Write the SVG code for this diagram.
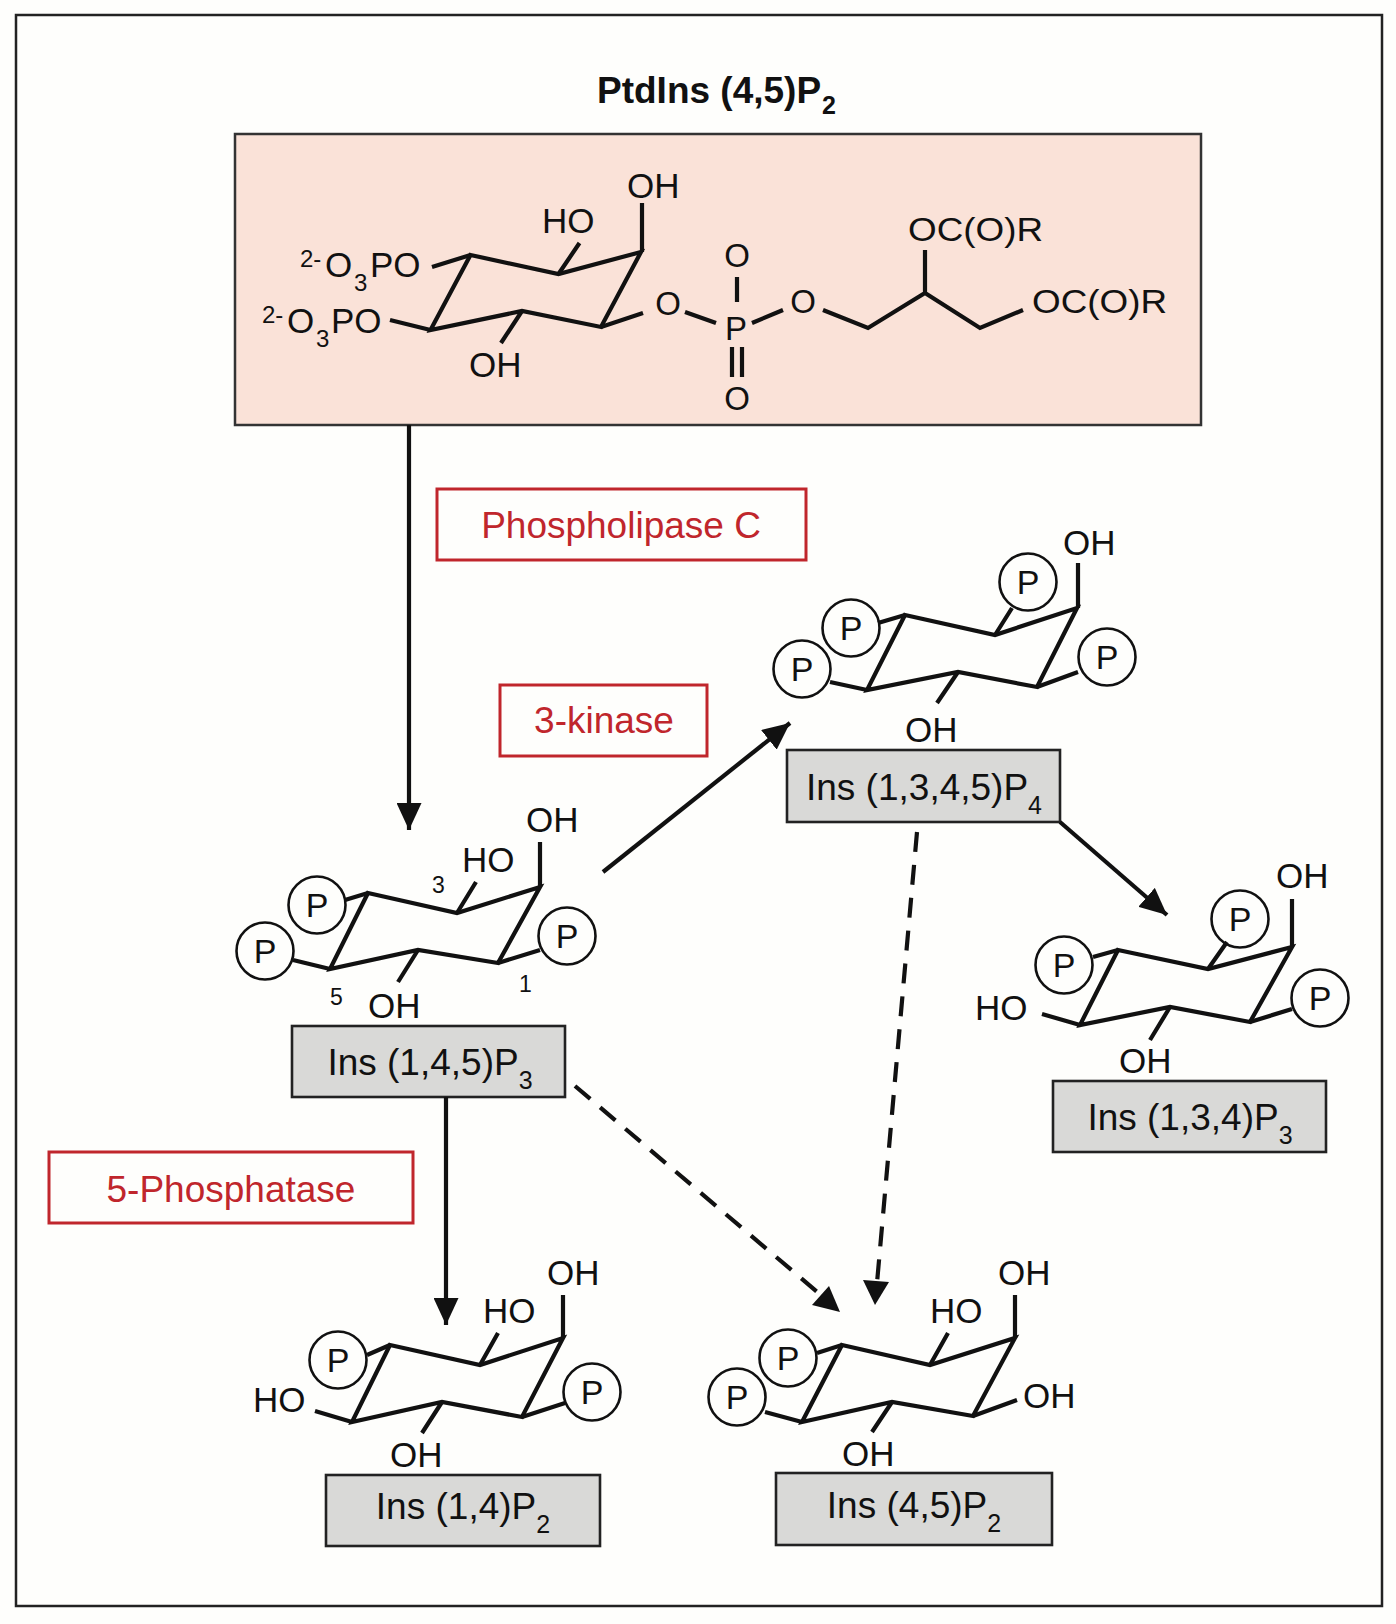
<svg xmlns="http://www.w3.org/2000/svg" width="1396" height="1624" viewBox="0 0 1396 1624">
<defs>
<style>
.bd{stroke:#111;stroke-width:4.2;fill:none;stroke-linejoin:miter}
.cn{stroke:#111;stroke-width:4.2;fill:none}
.dash{stroke-dasharray:20 13}
.t{font-family:"Liberation Sans",Arial,Helvetica,sans-serif;fill:#111}
.c{font-size:35px}
.s{font-size:24px}
.ls{font-size:25px}
.n{font-size:23px}
.pc{fill:none;stroke:#111;stroke-width:2.6}
.pt{font-size:34px;text-anchor:middle}
.lb{font-size:37px;text-anchor:middle}
.red{font-family:"Liberation Sans",Arial,Helvetica,sans-serif;fill:#c0262c;font-size:37px;text-anchor:middle}
.rbox{fill:none;stroke:#c0262c;stroke-width:3}
.gbox{fill:#d9d9d7;stroke:#222;stroke-width:2.6}
</style>
<marker id="ah" markerUnits="userSpaceOnUse" markerWidth="27" markerHeight="25" refX="27" refY="12.5" orient="auto">
<path d="M0,0 L27,12.5 L0,25 Z" fill="#111"/>
</marker>
</defs>
<rect x="0" y="0" width="1396" height="1624" fill="#fefefc"/>
<rect x="16" y="15" width="1366" height="1591" fill="none" stroke="#222" stroke-width="2.5"/>

<g id="title">
<text class="t" x="597" y="103" font-size="37" font-weight="bold">PtdIns (4,5)P</text>
<text class="t" x="822" y="114" font-size="25" font-weight="bold">2</text>
</g>

<g id="ptdins">
<rect x="235" y="134" width="966" height="291" fill="#fae2d8" stroke="#333" stroke-width="2.5"/>
<path class="bd" d="M470.5,255 L558.5,274 L641,252 L601,327 L522,311 L430.5,330 Z"/>
<path class="bd" d="M642,252 L642,203 M558.5,274 L579.5,243 M522,311 L501,343 M432,267 L470.5,255 M390,320 L430.5,330 M601,327 L643,313 M685,312 L716,323 M752,323 L783,310 M823,310 L868,328 L925,293 L980,328 L1023,310 M925,293 L925,250 M737,277 L737,302 M732,347 L732,377 M742,347 L742,377"/>
<text class="t c" x="627" y="198">OH</text>
<text class="t c" x="542" y="233">HO</text>
<text class="t c" x="469" y="377">OH</text>
<text class="t s" x="300" y="267">2-</text>
<text class="t c" x="325" y="277">O</text>
<text class="t s" x="354" y="291">3</text>
<text class="t c" x="370" y="277">PO</text>
<text class="t s" x="262" y="323">2-</text>
<text class="t c" x="287" y="333">O</text>
<text class="t s" x="316" y="347">3</text>
<text class="t c" x="331" y="333">PO</text>
<text class="t" font-size="33" x="668" y="315" text-anchor="middle">O</text>
<text class="t" font-size="33" x="736" y="340" text-anchor="middle">P</text>
<text class="t" font-size="33" x="737" y="267" text-anchor="middle">O</text>
<text class="t" font-size="33" x="737" y="410" text-anchor="middle">O</text>
<text class="t" font-size="33" x="803" y="313" text-anchor="middle">O</text>
<text class="t" font-size="33" x="908" y="241" textLength="135" lengthAdjust="spacingAndGlyphs">OC(O)R</text>
<text class="t" font-size="33" x="1032" y="313" textLength="135" lengthAdjust="spacingAndGlyphs">OC(O)R</text>
</g>

<g id="plc">
<rect class="rbox" x="437" y="489" width="369" height="71"/>
<text class="red" x="621" y="538">Phospholipase C</text>
</g>
<g id="kinase">
<rect class="rbox" x="500" y="685" width="207" height="71"/>
<text class="red" x="604" y="733">3-kinase</text>
</g>
<g id="phosphatase">
<rect class="rbox" x="49" y="1152" width="364" height="71"/>
<text class="red" x="231" y="1202">5-Phosphatase</text>
</g>

<g id="ins145p3">
<path class="bd" d="M368,893 L457,913 L540,887 L498,963 L418,950 L330,969 Z"/>
<path class="bd" d="M540,887 L540,842 M457,913 L476,882 M368,893 L345,900 M330,969 L293,960 M498,963 L540,950 M418,950 L398,982"/>
<circle class="pc" cx="317" cy="905" r="28.5"/>
<circle class="pc" cx="265" cy="951" r="28.5"/>
<circle class="pc" cx="567" cy="936" r="28.5"/>
<text class="t pt" x="317" y="917">P</text>
<text class="t pt" x="265" y="963">P</text>
<text class="t pt" x="567" y="948">P</text>
<text class="t c" x="526" y="832">OH</text>
<text class="t c" x="462" y="872">HO</text>
<text class="t c" x="368" y="1018">OH</text>
<text class="t n" x="432" y="893">3</text>
<text class="t n" x="330" y="1005">5</text>
<text class="t n" x="519" y="992">1</text>
<rect class="gbox" x="292" y="1026" width="273" height="71"/>
<text class="t lb" x="430" y="1075">Ins (1,4,5)P<tspan class="ls" dy="14">3</tspan></text>
</g>

<g id="ins1345p4">
<path class="bd" d="M905,615 L995,635 L1077,608 L1037,687 L958,672 L867,690 Z"/>
<path class="bd" d="M1078,608 L1078,563 M995,635 L1012,608 M905,615 L878,623 M867,690 L830,682 M1037,687 L1078,672 M958,672 L937,703"/>
<circle class="pc" cx="1028" cy="582" r="28.5"/>
<circle class="pc" cx="851" cy="628" r="28.5"/>
<circle class="pc" cx="802" cy="669" r="28.5"/>
<circle class="pc" cx="1107" cy="657" r="28.5"/>
<text class="t pt" x="1028" y="594">P</text>
<text class="t pt" x="851" y="640">P</text>
<text class="t pt" x="802" y="681">P</text>
<text class="t pt" x="1107" y="669">P</text>
<text class="t c" x="1063" y="555">OH</text>
<text class="t c" x="905" y="742">OH</text>
<rect class="gbox" x="787" y="750" width="273" height="72"/>
<text class="t lb" x="924" y="800">Ins (1,3,4,5)P<tspan class="ls" dy="14">4</tspan></text>
</g>

<g id="ins134p3">
<path class="bd" d="M1118,950 L1208,969 L1292,947 L1250,1022 L1170,1007 L1080,1025 Z"/>
<path class="bd" d="M1292,947 L1292,899 M1208,969 L1227,942 M1118,950 L1093,957 M1080,1025 L1042,1014 M1250,1022 L1292,1009 M1170,1007 L1150,1040"/>
<circle class="pc" cx="1240" cy="919" r="28.5"/>
<circle class="pc" cx="1064" cy="965" r="28.5"/>
<circle class="pc" cx="1320" cy="998" r="28.5"/>
<text class="t pt" x="1240" y="931">P</text>
<text class="t pt" x="1064" y="977">P</text>
<text class="t pt" x="1320" y="1010">P</text>
<text class="t c" x="1276" y="888">OH</text>
<text class="t c" x="975" y="1020">HO</text>
<text class="t c" x="1119" y="1073">OH</text>
<rect class="gbox" x="1053" y="1081" width="273" height="71"/>
<text class="t lb" x="1190" y="1130">Ins (1,3,4)P<tspan class="ls" dy="14">3</tspan></text>
</g>

<g id="ins14p2">
<path class="bd" d="M390,1345 L480,1365 L563,1338 L522,1417 L442,1402 L352,1422 Z"/>
<path class="bd" d="M563,1338 L563,1295 M480,1365 L498,1333 M390,1345 L367,1355 M352,1422 L315,1411 M522,1417 L565,1403 M442,1402 L422,1433"/>
<circle class="pc" cx="338" cy="1360" r="28.5"/>
<circle class="pc" cx="592" cy="1392" r="28.5"/>
<text class="t pt" x="338" y="1372">P</text>
<text class="t pt" x="592" y="1404">P</text>
<text class="t c" x="547" y="1285">OH</text>
<text class="t c" x="483" y="1323">HO</text>
<text class="t c" x="253" y="1412">HO</text>
<text class="t c" x="390" y="1467">OH</text>
<rect class="gbox" x="326" y="1475" width="274" height="71"/>
<text class="t lb" x="463" y="1519">Ins (1,4)P<tspan class="ls" dy="14">2</tspan></text>
</g>

<g id="ins45p2">
<path class="bd" d="M842,1345 L930,1365 L1015,1338 L973,1416 L892,1402 L802,1422 Z"/>
<path class="bd" d="M1015,1338 L1015,1295 M930,1365 L948,1333 M842,1345 L817,1353 M802,1422 L765,1412 M973,1416 L1017,1400 M892,1402 L872,1432"/>
<circle class="pc" cx="788" cy="1358" r="28.5"/>
<circle class="pc" cx="737" cy="1397" r="28.5"/>
<text class="t pt" x="788" y="1370">P</text>
<text class="t pt" x="737" y="1409">P</text>
<text class="t c" x="998" y="1285">OH</text>
<text class="t c" x="930" y="1323">HO</text>
<text class="t c" x="1023" y="1408">OH</text>
<text class="t c" x="842" y="1466">OH</text>
<rect class="gbox" x="776" y="1473" width="276" height="72"/>
<text class="t lb" x="914" y="1518">Ins (4,5)P<tspan class="ls" dy="14">2</tspan></text>
</g>

<g id="connectors">
<line class="cn" x1="409" y1="425" x2="409" y2="830" marker-end="url(#ah)"/>
<line class="cn" x1="603" y1="872" x2="790" y2="723" marker-end="url(#ah)"/>
<line class="cn" x1="1060" y1="822" x2="1167" y2="915" marker-end="url(#ah)"/>
<line class="cn" x1="446" y1="1097" x2="446" y2="1325" marker-end="url(#ah)"/>
<line class="cn dash" x1="917" y1="832" x2="877" y2="1283"/>
<path d="M863,1280 L875,1305 L889,1282 Z" fill="#111"/>
<line class="cn dash" x1="575" y1="1086" x2="822" y2="1296"/>
<path d="M812,1305 L840,1312 L829,1286 Z" fill="#111"/>
</g>
</svg>
